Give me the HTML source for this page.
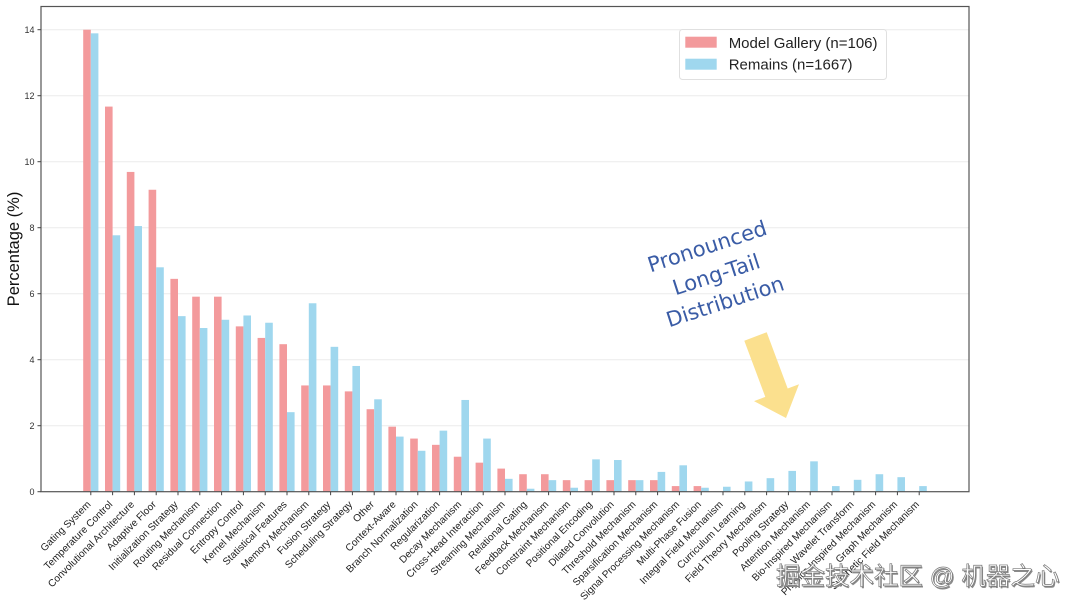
<!DOCTYPE html>
<html><head><meta charset="utf-8"><style>
html,body{margin:0;padding:0;background:#fff;}
svg{display:block;}
</style></head><body>
<svg width="1080" height="608" viewBox="0 0 1080 608" xmlns="http://www.w3.org/2000/svg">
<rect width="1080" height="608" fill="#fff"/>
<!-- grid -->
<g stroke="#ececec" stroke-width="1">
<line x1="41" x2="969" y1="425.7" y2="425.7"/>
<line x1="41" x2="969" y1="359.7" y2="359.7"/>
<line x1="41" x2="969" y1="293.7" y2="293.7"/>
<line x1="41" x2="969" y1="227.7" y2="227.7"/>
<line x1="41" x2="969" y1="161.7" y2="161.7"/>
<line x1="41" x2="969" y1="95.7" y2="95.7"/>
<line x1="41" x2="969" y1="29.7" y2="29.7"/>
</g>
<!-- red bars -->
<g transform="translate(0,491.7) scale(1,-33)" fill="#f39a9c">
<rect x="83.2" width="7.6" height="14.0"/>
<rect x="105.0" width="7.6" height="11.67"/>
<rect x="126.8" width="7.6" height="9.69"/>
<rect x="148.6" width="7.6" height="9.15"/>
<rect x="170.4" width="7.6" height="6.45"/>
<rect x="192.2" width="7.6" height="5.91"/>
<rect x="214.0" width="7.6" height="5.91"/>
<rect x="235.8" width="7.6" height="5.01"/>
<rect x="257.6" width="7.6" height="4.66"/>
<rect x="279.4" width="7.6" height="4.47"/>
<rect x="301.2" width="7.6" height="3.22"/>
<rect x="323.0" width="7.6" height="3.22"/>
<rect x="344.8" width="7.6" height="3.04"/>
<rect x="366.6" width="7.6" height="2.50"/>
<rect x="388.4" width="7.6" height="1.97"/>
<rect x="410.2" width="7.6" height="1.61"/>
<rect x="432.0" width="7.6" height="1.42"/>
<rect x="453.8" width="7.6" height="1.06"/>
<rect x="475.6" width="7.6" height="0.88"/>
<rect x="497.4" width="7.6" height="0.70"/>
<rect x="519.2" width="7.6" height="0.53"/>
<rect x="541.0" width="7.6" height="0.53"/>
<rect x="562.8" width="7.6" height="0.35"/>
<rect x="584.6" width="7.6" height="0.35"/>
<rect x="606.4" width="7.6" height="0.35"/>
<rect x="628.2" width="7.6" height="0.35"/>
<rect x="650.0" width="7.6" height="0.35"/>
<rect x="671.8" width="7.6" height="0.17"/>
<rect x="693.6" width="7.6" height="0.17"/>
</g>
<!-- blue bars -->
<g transform="translate(0,491.7) scale(1,-33)" fill="#9fd7ee">
<rect x="90.8" width="7.6" height="13.89"/>
<rect x="112.6" width="7.6" height="7.77"/>
<rect x="134.4" width="7.6" height="8.05"/>
<rect x="156.2" width="7.6" height="6.8"/>
<rect x="178.0" width="7.6" height="5.32"/>
<rect x="199.8" width="7.6" height="4.96"/>
<rect x="221.6" width="7.6" height="5.21"/>
<rect x="243.4" width="7.6" height="5.34"/>
<rect x="265.2" width="7.6" height="5.12"/>
<rect x="287.0" width="7.6" height="2.41"/>
<rect x="308.8" width="7.6" height="5.71"/>
<rect x="330.6" width="7.6" height="4.39"/>
<rect x="352.4" width="7.6" height="3.81"/>
<rect x="374.2" width="7.6" height="2.80"/>
<rect x="396.0" width="7.6" height="1.67"/>
<rect x="417.8" width="7.6" height="1.24"/>
<rect x="439.6" width="7.6" height="1.85"/>
<rect x="461.4" width="7.6" height="2.78"/>
<rect x="483.2" width="7.6" height="1.61"/>
<rect x="505.0" width="7.6" height="0.39"/>
<rect x="526.8" width="7.6" height="0.09"/>
<rect x="548.6" width="7.6" height="0.35"/>
<rect x="570.4" width="7.6" height="0.12"/>
<rect x="592.2" width="7.6" height="0.98"/>
<rect x="614.0" width="7.6" height="0.96"/>
<rect x="635.8" width="7.6" height="0.35"/>
<rect x="657.6" width="7.6" height="0.60"/>
<rect x="679.4" width="7.6" height="0.80"/>
<rect x="701.2" width="7.6" height="0.12"/>
<rect x="723.0" width="7.6" height="0.15"/>
<rect x="744.8" width="7.6" height="0.31"/>
<rect x="766.6" width="7.6" height="0.41"/>
<rect x="788.4" width="7.6" height="0.63"/>
<rect x="810.2" width="7.6" height="0.92"/>
<rect x="832.0" width="7.6" height="0.17"/>
<rect x="853.8" width="7.6" height="0.36"/>
<rect x="875.6" width="7.6" height="0.53"/>
<rect x="897.4" width="7.6" height="0.44"/>
<rect x="919.2" width="7.6" height="0.17"/>
</g>
<!-- frame -->
<rect x="41" y="6.5" width="928" height="485.2" fill="none" stroke="#555" stroke-width="1.2"/>
<!-- y ticks -->
<g stroke="#444" stroke-width="1">
<line x1="37.5" x2="41" y1="491.7" y2="491.7"/>
<line x1="37.5" x2="41" y1="425.7" y2="425.7"/>
<line x1="37.5" x2="41" y1="359.7" y2="359.7"/>
<line x1="37.5" x2="41" y1="293.7" y2="293.7"/>
<line x1="37.5" x2="41" y1="227.7" y2="227.7"/>
<line x1="37.5" x2="41" y1="161.7" y2="161.7"/>
<line x1="37.5" x2="41" y1="95.7" y2="95.7"/>
<line x1="37.5" x2="41" y1="29.7" y2="29.7"/>
</g>
<g font-family="Liberation Sans, sans-serif" font-size="9" fill="#333" text-anchor="end">
<text x="34.5" y="494.9">0</text>
<text x="34.5" y="428.9">2</text>
<text x="34.5" y="362.9">4</text>
<text x="34.5" y="296.9">6</text>
<text x="34.5" y="230.9">8</text>
<text x="34.5" y="164.9">10</text>
<text x="34.5" y="98.9">12</text>
<text x="34.5" y="32.9">14</text>
</g>
<text transform="translate(19,249) rotate(-90)" text-anchor="middle" font-family="Liberation Sans, sans-serif" font-size="16.5" fill="#111">Percentage (%)</text>
<!-- x ticks -->
<g stroke="#444" stroke-width="1">
<line x1="90.8" x2="90.8" y1="491.7" y2="495.2"/><line x1="112.6" x2="112.6" y1="491.7" y2="495.2"/><line x1="134.4" x2="134.4" y1="491.7" y2="495.2"/><line x1="156.2" x2="156.2" y1="491.7" y2="495.2"/><line x1="178.0" x2="178.0" y1="491.7" y2="495.2"/><line x1="199.8" x2="199.8" y1="491.7" y2="495.2"/><line x1="221.6" x2="221.6" y1="491.7" y2="495.2"/><line x1="243.4" x2="243.4" y1="491.7" y2="495.2"/><line x1="265.2" x2="265.2" y1="491.7" y2="495.2"/><line x1="287.0" x2="287.0" y1="491.7" y2="495.2"/><line x1="308.8" x2="308.8" y1="491.7" y2="495.2"/><line x1="330.6" x2="330.6" y1="491.7" y2="495.2"/><line x1="352.4" x2="352.4" y1="491.7" y2="495.2"/><line x1="374.2" x2="374.2" y1="491.7" y2="495.2"/><line x1="396.0" x2="396.0" y1="491.7" y2="495.2"/><line x1="417.8" x2="417.8" y1="491.7" y2="495.2"/><line x1="439.6" x2="439.6" y1="491.7" y2="495.2"/><line x1="461.4" x2="461.4" y1="491.7" y2="495.2"/><line x1="483.2" x2="483.2" y1="491.7" y2="495.2"/><line x1="505.0" x2="505.0" y1="491.7" y2="495.2"/><line x1="526.8" x2="526.8" y1="491.7" y2="495.2"/><line x1="548.6" x2="548.6" y1="491.7" y2="495.2"/><line x1="570.4" x2="570.4" y1="491.7" y2="495.2"/><line x1="592.2" x2="592.2" y1="491.7" y2="495.2"/><line x1="614.0" x2="614.0" y1="491.7" y2="495.2"/><line x1="635.8" x2="635.8" y1="491.7" y2="495.2"/><line x1="657.6" x2="657.6" y1="491.7" y2="495.2"/><line x1="679.4" x2="679.4" y1="491.7" y2="495.2"/><line x1="701.2" x2="701.2" y1="491.7" y2="495.2"/><line x1="723.0" x2="723.0" y1="491.7" y2="495.2"/><line x1="744.8" x2="744.8" y1="491.7" y2="495.2"/><line x1="766.6" x2="766.6" y1="491.7" y2="495.2"/><line x1="788.4" x2="788.4" y1="491.7" y2="495.2"/><line x1="810.2" x2="810.2" y1="491.7" y2="495.2"/><line x1="832.0" x2="832.0" y1="491.7" y2="495.2"/><line x1="853.8" x2="853.8" y1="491.7" y2="495.2"/><line x1="875.6" x2="875.6" y1="491.7" y2="495.2"/><line x1="897.4" x2="897.4" y1="491.7" y2="495.2"/><line x1="919.2" x2="919.2" y1="491.7" y2="495.2"/>
</g>
<g font-family="Liberation Sans, sans-serif" font-size="10.1" fill="#222" text-anchor="end">
<text transform="translate(91.3,505) rotate(-45)">Gating System</text>
<text transform="translate(113.1,505) rotate(-45)">Temperature Control</text>
<text transform="translate(134.9,505) rotate(-45)">Convolutional Architecture</text>
<text transform="translate(156.7,505) rotate(-45)">Adaptive Floor</text>
<text transform="translate(178.5,505) rotate(-45)">Initialization Strategy</text>
<text transform="translate(200.3,505) rotate(-45)">Routing Mechanism</text>
<text transform="translate(222.1,505) rotate(-45)">Residual Connection</text>
<text transform="translate(243.9,505) rotate(-45)">Entropy Control</text>
<text transform="translate(265.7,505) rotate(-45)">Kernel Mechanism</text>
<text transform="translate(287.5,505) rotate(-45)">Statistical Features</text>
<text transform="translate(309.3,505) rotate(-45)">Memory Mechanism</text>
<text transform="translate(331.1,505) rotate(-45)">Fusion Strategy</text>
<text transform="translate(352.9,505) rotate(-45)">Scheduling Strategy</text>
<text transform="translate(374.7,505) rotate(-45)">Other</text>
<text transform="translate(396.5,505) rotate(-45)">Context-Aware</text>
<text transform="translate(418.3,505) rotate(-45)">Branch Normalization</text>
<text transform="translate(440.1,505) rotate(-45)">Regularization</text>
<text transform="translate(461.9,505) rotate(-45)">Decay Mechanism</text>
<text transform="translate(483.7,505) rotate(-45)">Cross-Head Interaction</text>
<text transform="translate(505.5,505) rotate(-45)">Streaming Mechanism</text>
<text transform="translate(527.3,505) rotate(-45)">Relational Gating</text>
<text transform="translate(549.1,505) rotate(-45)">Feedback Mechanism</text>
<text transform="translate(570.9,505) rotate(-45)">Constraint Mechanism</text>
<text transform="translate(592.7,505) rotate(-45)">Positional Encoding</text>
<text transform="translate(614.5,505) rotate(-45)">Dilated Convolution</text>
<text transform="translate(636.3,505) rotate(-45)">Threshold Mechanism</text>
<text transform="translate(658.1,505) rotate(-45)">Sparsification Mechanism</text>
<text transform="translate(679.9,505) rotate(-45)">Signal Processing Mechanism</text>
<text transform="translate(701.7,505) rotate(-45)">Multi-Phase Fusion</text>
<text transform="translate(723.5,505) rotate(-45)">Integral Field Mechanism</text>
<text transform="translate(745.3,505) rotate(-45)">Curriculum Learning</text>
<text transform="translate(767.1,505) rotate(-45)">Field Theory Mechanism</text>
<text transform="translate(788.9,505) rotate(-45)">Pooling Strategy</text>
<text transform="translate(810.7,505) rotate(-45)">Attention Mechanism</text>
<text transform="translate(832.5,505) rotate(-45)">Bio-Inspired Mechanism</text>
<text transform="translate(854.3,505) rotate(-45)">Wavelet Transform</text>
<text transform="translate(876.1,505) rotate(-45)">Physics-Inspired Mechanism</text>
<text transform="translate(897.9,505) rotate(-45)">Graph Mechanism</text>
<text transform="translate(919.7,505) rotate(-45)">Synthetic Field Mechanism</text>
</g>
<!-- legend -->
<rect x="679.5" y="29.5" width="207" height="50" rx="3" fill="#fff" fill-opacity="0.9" stroke="#e0e0e0" stroke-width="1"/>
<rect x="685.3" y="36.7" width="31.4" height="11" fill="#f39a9c"/>
<rect x="685.3" y="58.7" width="31.4" height="11" fill="#9fd7ee"/>
<g font-family="Liberation Sans, sans-serif" font-size="15" fill="#222">
<text x="728.7" y="47.8">Model Gallery (n=106)</text>
<text x="728.7" y="69.6">Remains (n=1667)</text>
</g>
<!-- annotation -->
<g transform="translate(709.4,253.3) rotate(-18)" font-family="DejaVu Sans, sans-serif" font-size="21" fill="#3a5ca6" text-anchor="middle">
<text x="0" y="0">Pronounced</text>
<text x="0" y="29.5">Long-Tail</text>
<text x="0" y="58">Distribution</text>
</g>
<polygon points="744.3,340.7 766.7,332.3 787.7,388.5 799,384.3 786,418 754,401.1 765.3,396.9" fill="#fbe08e"/>
<!-- watermark -->
<g font-family="Liberation Sans, Noto Sans CJK SC, sans-serif" font-size="24.5">
<text x="777.2" y="585.8" fill="#8a8a8a">掘金技术社区 @ 机器之心</text>
<text x="776" y="584.6" fill="#fff" stroke="#777" stroke-width="0.7">掘金技术社区 @ 机器之心</text>
</g>
</svg>
</body></html>
